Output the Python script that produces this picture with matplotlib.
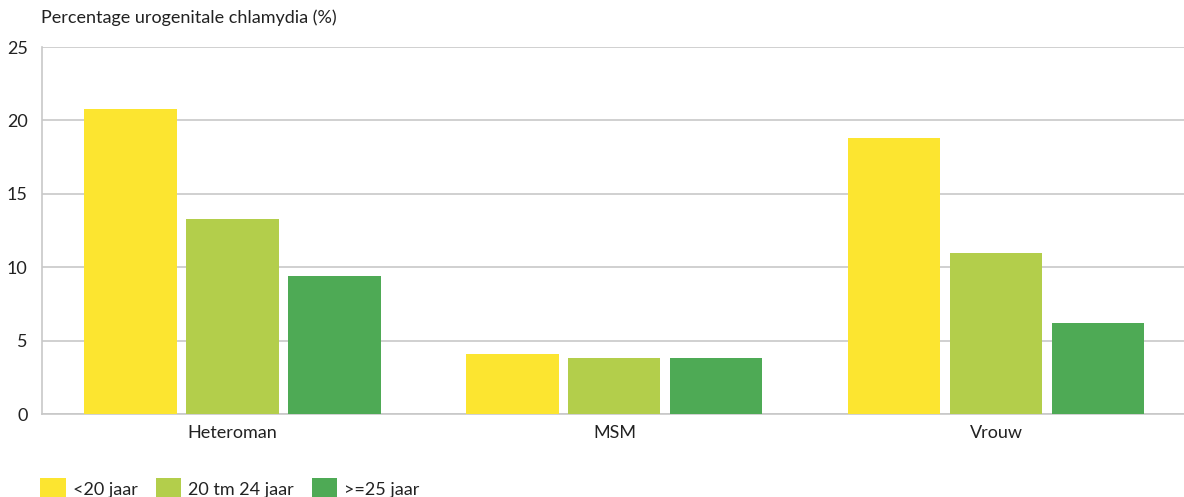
import numpy as np
import matplotlib
matplotlib.use('Agg')
import matplotlib.pyplot as plt

plt.rcParams['font.family'] = ['Lato', 'DejaVu Sans']

groepen = ['Heteroman', 'MSM', 'Vrouw']
leeftijden = ['<20 jaar', '20 tm 24 jaar', '>=25 jaar']
onder_20 = [20.8, 4.1, 18.8]
tm_24 = [13.3, 3.8, 11.0]
vanaf_25 = [9.4, 3.8, 6.2]
kleuren = ['#FCE530', '#B3CE4B', '#4EAA55']

fig = plt.figure(figsize=(11.84, 4.97), dpi=100)
ax = fig.add_axes([41.5 / 1184, 1 - 414.3 / 497, 1 - 41.5 / 1184, (414.3 - 47) / 497])

x = np.arange(len(groepen))
w = 0.241
step = 0.267
for i, (serie, kleur, label) in enumerate(zip([onder_20, tm_24, vanaf_25], kleuren, leeftijden)):
    ax.bar(x + (i - 1) * step, serie, width=w, color=kleur, label=label, zorder=3)

ax.set_xlim(-0.5, 2.491)
ax.set_ylim(0, 25)
ax.set_yticks([0, 5, 10, 15, 20, 25])
ax.set_xticks(x)
ax.set_xticklabels(groepen)
ax.grid(axis='y', color='#c8c8c8', linewidth=1.2, zorder=0)
ax.tick_params(length=0, labelsize=13, colors='#222222', pad=8)
ax.tick_params(axis='y', pad=10)
for s in ['top', 'right']:
    ax.spines[s].set_visible(False)
for s in ['left', 'bottom']:
    ax.spines[s].set_color('#c8c8c8')
    ax.spines[s].set_linewidth(1.2)

fig.text(41 / 1184, 1 - 18 / 497, 'Percentage urogenitale chlamydia (%)', fontsize=13,
         color='#222222', va='center', ha='left')

fig.legend(loc='upper left', bbox_to_anchor=(24 / 1184, 1 - 462 / 497), ncol=3, frameon=False,
           fontsize=13, handlelength=1.4, handleheight=1.4, columnspacing=1.0, handletextpad=0.4,
           labelcolor='#222222')

fig.savefig('out.png', dpi=100)
